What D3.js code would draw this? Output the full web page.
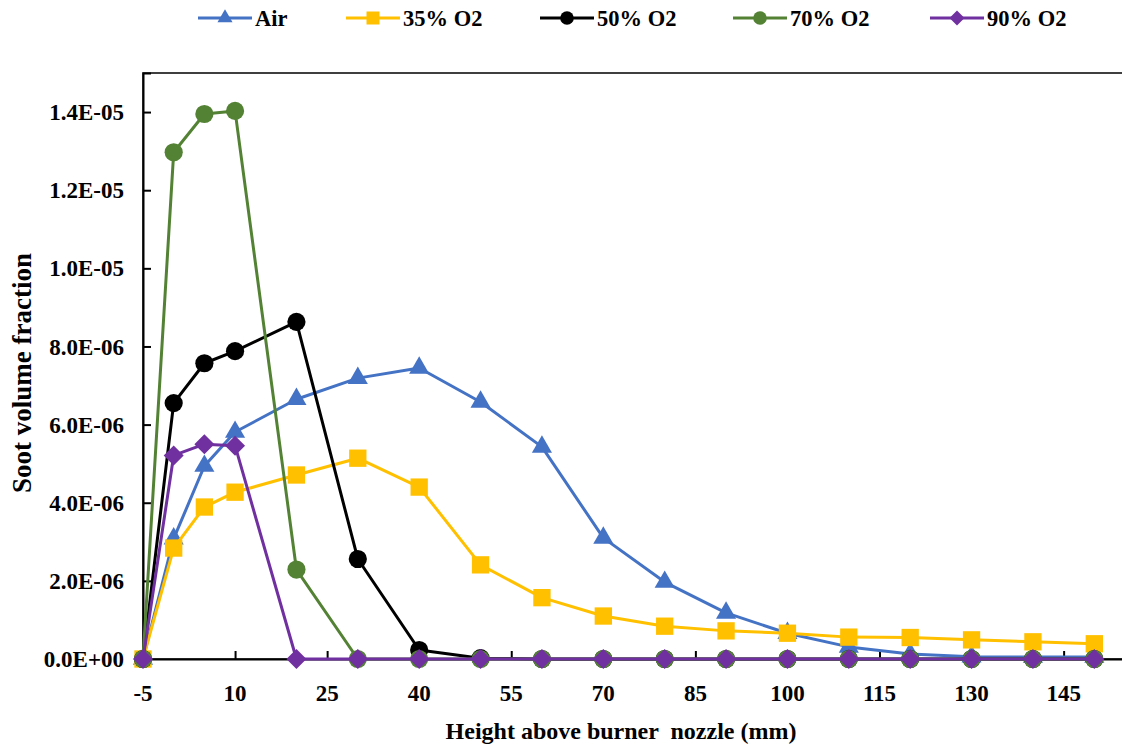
<!DOCTYPE html>
<html>
<head>
<meta charset="utf-8">
<script src="https://cdn.jsdelivr.net/npm/d3@7"></script>
<style>
  body { margin: 0; background: #fff; }
  svg text { font-family: "Liberation Serif", "DejaVu Serif", serif; font-weight: bold; fill: #000; }
</style>
</head>
<body>
<svg id="chart" width="1122" height="746" font-family="Liberation Serif, DejaVu Serif, serif"></svg>
<script>
// heights (mm)
const heights = [-5, 0, 5, 10, 20, 30, 40, 50, 60, 70, 80, 90, 100, 110, 120, 130, 140, 150];

// soot volume fraction, units of 1e-6
const airVals = [0, 3.08, 4.94, 5.81, 6.65, 7.19, 7.45, 6.58, 5.43, 3.10, 1.97, 1.18, 0.66, 0.31, 0.13, 0.06, 0.05, 0.05];
const o2_35Vals = [0, 2.84, 3.89, 4.27, 4.71, 5.14, 4.40, 2.41, 1.57, 1.10, 0.84, 0.72, 0.66, 0.56, 0.55, 0.49, 0.44, 0.39];
const o2_50Vals = [0, 6.55, 7.57, 7.88, 8.63, 2.56, 0.23, 0.02, 0, 0, 0, 0, 0, 0, 0, 0, 0, 0];
const o2_70Vals = [0, 12.97, 13.95, 14.03, 2.29, 0, 0, 0, 0, 0, 0, 0, 0, 0, 0, 0, 0, 0];
const o2_90Vals = [0, 5.21, 5.50, 5.46, 0, 0, 0, 0, 0, 0, 0, 0, 0, 0, 0, 0, 0, 0];

const seriesNames = ["Air", "35% O2", "50% O2", "70% O2", "90% O2"];
const seriesVals = [airVals, o2_35Vals, o2_50Vals, o2_70Vals, o2_90Vals];
const seriesColors = ["#4472C4", "#FFC000", "#000000", "#548235", "#7030A0"];
const seriesMarkers = ["triangle", "square", "circle", "circle", "diamond"];

const xTicks = [-5, 10, 25, 40, 55, 70, 85, 100, 115, 130, 145];
const yTicks = [0, 2e-6, 4e-6, 6e-6, 8e-6, 1e-5, 1.2e-5, 1.4e-5];

const svg = d3.select("#chart");
const plotLeft = 143, plotTop = 73, plotRight = 1125, plotBottom = 659;

const x = d3.scaleLinear().domain([-5, 155]).range([plotLeft, plotRight]);
const y = d3.scaleLinear().domain([0, 1.5e-5]).range([plotBottom, plotTop]);

function markerPath(type) {
    if (type === "triangle") return d3.symbol().type(d3.symbolTriangle).size(175)();
    if (type === "square") return d3.symbol().type(d3.symbolSquare).size(300)();
    if (type === "circle") return d3.symbol().type(d3.symbolCircle).size(260)();
    return d3.symbol().type(d3.symbolSquare).size(200)();
}

// plot frame
svg.append("rect")
    .attr("x", plotLeft).attr("y", plotTop)
    .attr("width", plotRight - plotLeft).attr("height", plotBottom - plotTop)
    .attr("fill", "none").attr("stroke", "#000").attr("stroke-width", 1.5);

// y axis (ticks inside)
const yAxis = svg.append("g")
    .attr("transform", `translate(${plotLeft},0)`)
    .call(d3.axisRight(y).tickValues(yTicks).tickSize(8).tickFormat(""));
yAxis.select(".domain").attr("stroke-width", 2);
yAxis.selectAll(".tick line").attr("stroke-width", 2);

svg.append("g").selectAll("text")
    .data(yTicks)
    .join("text")
    .attr("x", 124)
    .attr("y", d => y(d))
    .attr("dy", "0.35em")
    .attr("text-anchor", "end")
    .style("font-size", "23px")
    .text(d => {
        const s = d.toExponential(1).toUpperCase();
        const parts = s.split("E");
        let exp = parseInt(parts[1]);
        const sign = exp < 0 ? "-" : "+";
        exp = Math.abs(exp);
        return parts[0] + "E" + sign + (exp < 10 ? "0" : "") + exp;
    });

// x axis (ticks inside)
const xAxis = svg.append("g")
    .attr("transform", `translate(0,${plotBottom})`)
    .call(d3.axisTop(x).tickValues(xTicks).tickSize(8).tickFormat(""));
xAxis.select(".domain").attr("stroke-width", 2);
xAxis.selectAll(".tick line").attr("stroke-width", 2);

svg.append("g").selectAll("text")
    .data(xTicks)
    .join("text")
    .attr("x", d => x(d))
    .attr("y", 693)
    .attr("dy", "0.35em")
    .attr("text-anchor", "middle")
    .style("font-size", "23px")
    .text(d => d);

// axis titles
svg.append("text")
    .attr("x", 621).attr("y", 731)
    .attr("dy", "0.35em")
    .attr("text-anchor", "middle")
    .style("font-size", "24px")
    .attr("xml:space", "preserve")
    .text("Height above burner  nozzle (mm)");

svg.append("text")
    .attr("transform", "translate(22,373) rotate(-90)")
    .attr("dy", "0.35em")
    .attr("text-anchor", "middle")
    .style("font-size", "27px")
    .text("Soot volume fraction");

// series
const line = d3.line()
    .x(d => x(d[0]))
    .y(d => y(d[1] * 1e-6));

seriesVals.forEach((vals, i) => {
    const pts = heights.map((h, j) => [h, vals[j]]);
    const g = svg.append("g");
    g.append("path")
        .datum(pts)
        .attr("d", line)
        .attr("fill", "none")
        .attr("stroke", seriesColors[i])
        .attr("stroke-width", 3)
        .attr("stroke-linejoin", "round");
    g.selectAll("path.mk")
        .data(pts)
        .join("path")
        .attr("class", "mk")
        .attr("d", markerPath(seriesMarkers[i]))
        .attr("transform", d => `translate(${x(d[0])},${y(d[1] * 1e-6)})` + (seriesMarkers[i] === "diamond" ? " rotate(45)" : ""))
        .attr("fill", seriesColors[i]);
});

// legend
const legendX = [198, 346, 540, 733, 930];
const legend = svg.append("g");
seriesNames.forEach((name, i) => {
    const lx = legendX[i], ly = 18;
    legend.append("line")
        .attr("x1", lx).attr("x2", lx + 54)
        .attr("y1", ly).attr("y2", ly)
        .attr("stroke", seriesColors[i]).attr("stroke-width", 3);
    legend.append("path")
        .attr("d", markerPath(seriesMarkers[i]))
        .attr("transform", `translate(${lx + 27},${ly})` + (seriesMarkers[i] === "diamond" ? " scale(0.75) rotate(45)" : " scale(0.75)"))
        .attr("fill", seriesColors[i]);
    legend.append("text")
        .attr("x", lx + 57).attr("y", ly)
        .attr("dy", "0.35em")
        .style("font-size", "22.5px")
        .text(name);
});
</script>
</body>
</html>
